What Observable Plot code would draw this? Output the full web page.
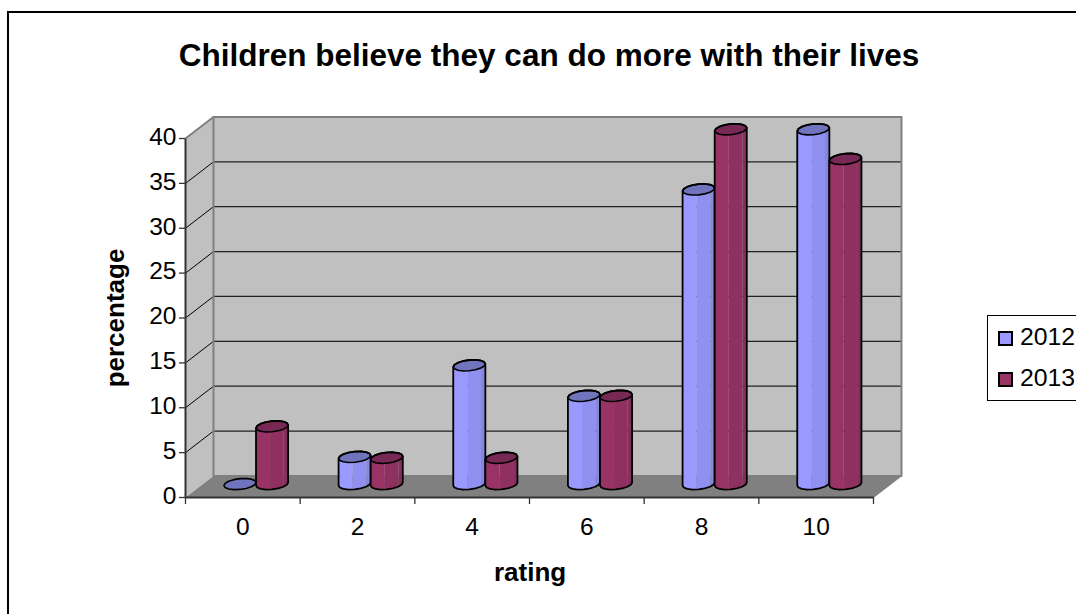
<!DOCTYPE html>
<html>
<head>
<meta charset="utf-8">
<script src="https://cdn.jsdelivr.net/npm/d3@7"></script>
<script src="https://cdn.jsdelivr.net/npm/@observablehq/plot@0.6"></script>
<style>
  html, body { margin: 0; padding: 0; background: #fff; }
  body { position: relative; width: 1076px; height: 614px; overflow: hidden;
         font-family: "Liberation Sans", Arial, sans-serif; color: #000; }
  #area { position: absolute; left: 7px; top: 11px; width: 1200px; height: 800px;
          border: 2px solid #000; box-sizing: border-box; }
  #chart { position: absolute; left: 0; top: 0; }
  #title { position: absolute; left: 0; top: 37px; width: 1098px; text-align: center;
           font-weight: bold; font-size: 31.5px; line-height: 36px; white-space: nowrap; }
  #legend { position: absolute; left: 987px; top: 315px; width: 120px; height: 86px;
            border: 1px solid #000; box-sizing: border-box; background: #fff; }
  .key { position: absolute; left: 10px; width: 110px; height: 28px; font-size: 24.8px; line-height: 28px; }
  .key i { position: absolute; left: 0; top: 7px; width: 15px; height: 15px;
           border: 2px solid #000; box-sizing: border-box; }
  .key span { position: absolute; left: 22px; top: -1px; }
</style>
</head>
<body>
<div id="area"></div>
<div id="chart"></div>
<div id="title"></div>
<div id="legend"></div>
<script>
const titleText = "Children believe they can do more with their lives";
const xLabel = "rating";
const yLabel = "percentage";
const ratings = ["0", "2", "4", "6", "8", "10"];
const years = ["2012", "2013"];
const values2012 = [0, 3.5, 13.7, 10.3, 33.3, 40];
const values2013 = [6.9, 3.4, 3.4, 10.3, 40, 36.7];
const yTicks = [0, 5, 10, 15, 20, 25, 30, 35, 40];

const faces = {
  "2012": { shades: ["#9999ff", "#9090f0", "#8686dc"], top: "#6f74bd" },
  "2013": { shades: ["#993366", "#8f3060", "#84305c"], top: "#772855" }
};

// Oblique projection: the depth of the box in category and percentage units.
const depthX = 0.244;
const depthY = 2.4;
const yMax = 40;
const n = ratings.length;

// Cylinder dimensions, in the same units.
const radiusX = 0.14;
const radiusY = 0.6;
const tilt = 0.17;
const liftBase = 1.5;
const liftTop = 1.02;

// Points on a cylinder's elliptical rim; angles from pi to 2pi run along its front.
const ring = (cx, cy, from, to, steps) =>
  d3.range(steps + 1).map(i => {
    const a = from + (to - from) * i / steps;
    return {
      x: cx + radiusX * Math.cos(a),
      y: cy + radiusY * Math.sin(a) + tilt * Math.cos(a)
    };
  });

function poly(points, options) {
  return Plot.line(points, { x: "x", y: "y", curve: "linear-closed", ...options });
}

function cylinder(cx, value, year) {
  const base = liftBase;
  const top = value + liftTop;
  if (value === 0) {
    return [poly(ring(cx, base, 0, 2 * Math.PI, 16), { fill: faces[year].top, stroke: "#000", strokeWidth: 1.6 })];
  }
  const body = (u0, u1) => {
    const a0 = Math.PI + Math.PI * u0;
    const a1 = Math.PI + Math.PI * u1;
    return [...ring(cx, base, a0, a1, 6), ...ring(cx, top, a1, a0, 6)];
  };
  const outline = [
    ...ring(cx, base, Math.PI, 2 * Math.PI, 8),
    ...ring(cx, top, 0, Math.PI, 8)
  ];
  return [
    poly(body(0, 0.46), { fill: faces[year].shades[0] }),
    poly(body(0.46, 0.76), { fill: faces[year].shades[1] }),
    poly(body(0.76, 1), { fill: faces[year].shades[2] }),
    poly(ring(cx, top, 0, 2 * Math.PI, 16), { fill: faces[year].top }),
    poly(ring(cx, top, 0, 2 * Math.PI, 16), { stroke: "#000", strokeWidth: 1.6 }),
    poly(outline, { stroke: "#000", strokeWidth: 1.8 })
  ];
}

const wallBack = [
  { x: depthX, y: depthY }, { x: n + depthX, y: depthY },
  { x: n + depthX, y: yMax + depthY }, { x: depthX, y: yMax + depthY }
];
const wallSide = [
  { x: 0, y: 0 }, { x: depthX, y: depthY },
  { x: depthX, y: yMax + depthY }, { x: 0, y: yMax }
];
const floor = [
  { x: 0, y: 0 }, { x: n, y: 0 },
  { x: n + depthX, y: depthY }, { x: depthX, y: depthY }
];

const cylinders = ratings.flatMap((_, i) => {
  const middle = i + 0.5 + 0.115;
  return [
    ...cylinder(middle - radiusX, values2012[i], "2012"),
    ...cylinder(middle + radiusX, values2013[i], "2013")
  ];
});

const inner = yTicks.slice(1, -1);

const chart = Plot.plot({
  width: 1076,
  height: 614,
  marginLeft: 185,
  marginRight: 203,
  marginTop: 138,
  marginBottom: 117,
  style: { fontFamily: "'Liberation Sans', Arial, sans-serif", color: "#000", background: "transparent", overflow: "visible" },
  x: { type: "linear", domain: [0, n], axis: null },
  y: { type: "linear", domain: [0, yMax], axis: null },
  marks: [
    poly(wallBack, { fill: "#c0c0c0" }),
    poly(wallSide, { fill: "#c0c0c0" }),
    poly(floor, { fill: "#808080" }),
    Plot.link(inner, {
      x1: () => depthX, y1: d => d + depthY, x2: () => n + depthX, y2: d => d + depthY,
      stroke: "#222", strokeWidth: 1.3
    }),
    Plot.link(inner, {
      x1: () => 0, y1: d => d, x2: () => depthX, y2: d => d + depthY,
      stroke: "#000", strokeWidth: 1
    }),
    poly(wallBack, { stroke: "#808080", strokeWidth: 2 }),
    Plot.link([yMax], {
      x1: () => 0, y1: d => d, x2: () => depthX, y2: d => d + depthY,
      stroke: "#808080", strokeWidth: 2
    }),
    Plot.link([0], {
      x1: () => n, y1: d => d, x2: () => n + depthX, y2: d => d + depthY,
      stroke: "#808080", strokeWidth: 1
    }),
    ...cylinders,
    Plot.axisY({
      ticks: yTicks, tickSize: 6, tickPadding: 3, stroke: "#333", fontSize: 24.5,
      strokeWidth: 1.3, label: null, marginLeft: 185, tickFormat: () => ""
    }),
    Plot.axisY({
      ticks: yTicks, tickSize: 0, tickPadding: 9, stroke: null, fontSize: 24.5,
      label: null, marginLeft: 185, dy: -1.5
    }),
    Plot.axisX({
      ticks: d3.range(n + 1), tickSize: 7, stroke: "#333", strokeWidth: 1.3,
      tickFormat: () => "", label: null
    }),
    Plot.link([0], {
      x1: () => 0, y1: () => 0, x2: () => 0, y2: () => yMax, stroke: "#333", strokeWidth: 2
    }),
    Plot.link([0], {
      x1: () => 0, y1: () => 0, x2: () => n, y2: () => 0, stroke: "#333", strokeWidth: 2
    }),
    Plot.text(ratings, {
      x: (_, i) => i + 0.5, y: () => 0, text: d => d, dy: 30, fontSize: 24.5, fill: "#000"
    }),
    Plot.text([xLabel], {
      x: () => n / 2 + 0.005, y: () => 0, text: d => d, dy: 75, fontSize: 26, fontWeight: "bold", fill: "#000"
    }),
    Plot.text([yLabel], {
      x: () => 0, y: () => yMax / 2, text: d => d, dx: -70, rotate: -90, fontSize: 26, fontWeight: "bold", fill: "#000"
    })
  ]
});
document.getElementById("chart").append(chart);

document.getElementById("title").textContent = titleText;

const legend = document.getElementById("legend");
years.forEach((year, i) => {
  const key = document.createElement("div");
  key.className = "key";
  key.style.top = (8 + i * 41) + "px";
  const swatch = document.createElement("i");
  swatch.style.background = faces[year].shades[0];
  const label = document.createElement("span");
  label.textContent = year;
  key.append(swatch, label);
  legend.append(key);
});
</script>
</body>
</html>
